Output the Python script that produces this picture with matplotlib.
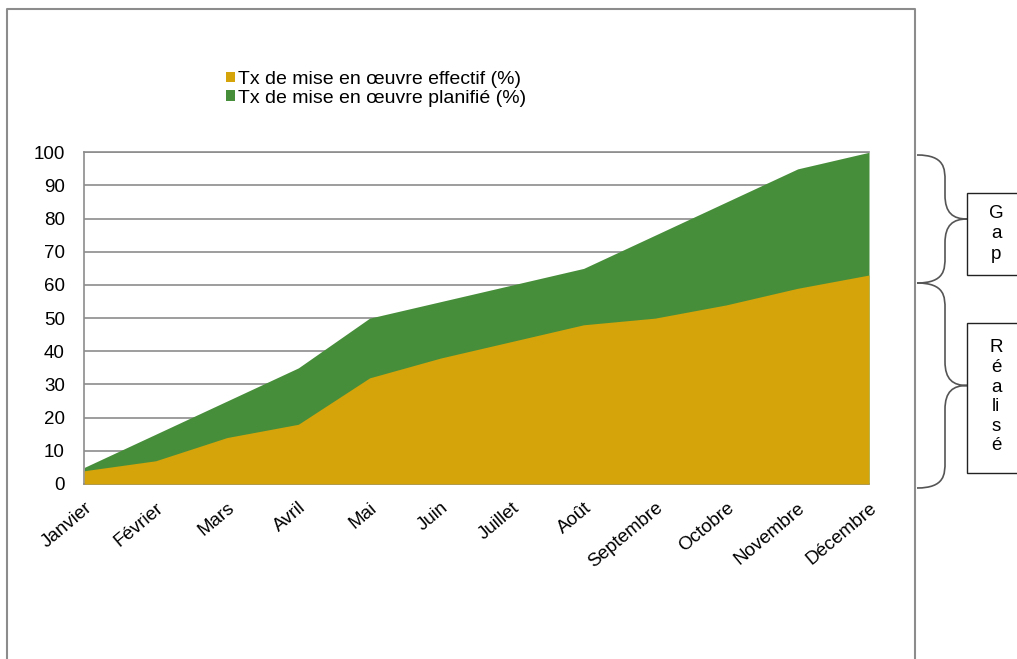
import matplotlib.pyplot as plt
import numpy as np
from matplotlib.patches import Patch, Rectangle, PathPatch
from matplotlib.path import Path

plt.rcParams['font.family'] = ['Liberation Sans', 'DejaVu Sans']

# Données
mois = ['Janvier', 'Février', 'Mars', 'Avril', 'Mai', 'Juin', 'Juillet',
        'Août', 'Septembre', 'Octobre', 'Novembre', 'Décembre']
planifie = [5, 15, 25, 35, 50, 55, 60, 65, 75, 85, 95, 100]
effectif = [4, 7, 14, 18, 32, 38, 43, 48, 50, 54, 59, 63]
y_ticks = [0, 10, 20, 30, 40, 50, 60, 70, 80, 90, 100]

c_effectif = '#D5A40B'
c_planifie = '#478E3A'
c_gris = '#8c8c8c'

W, H = 1017, 659
fig = plt.figure(figsize=(W / 100, H / 100), dpi=100)
ax = fig.add_axes([84.3 / W, 1 - 484 / H, (869 - 84.3) / W, (484 - 152.3) / H])

x = np.arange(len(mois))
ax.fill_between(x, 0, planifie, color=c_planifie, linewidth=0, zorder=2)
ax.fill_between(x, 0, effectif, color=c_effectif, linewidth=0, zorder=3)

ax.set_xlim(0, len(mois) - 1)
ax.set_ylim(0, 100)
ax.set_yticks(y_ticks)
ax.set_xticks(x)
ax.set_xticklabels(mois, rotation=40, ha='right', rotation_mode='anchor')
ax.tick_params(axis='y', length=0, pad=14, labelsize=13.5)
ax.tick_params(axis='x', length=0, pad=11, labelsize=13.5)
ax.grid(axis='y', color=c_gris, linewidth=1.2, zorder=1)
ax.set_axisbelow(True)
for side in ['left', 'bottom', 'top']:
    ax.spines[side].set_color(c_gris)
    ax.spines[side].set_linewidth(1.2)
ax.spines['right'].set_visible(False)

handles = [Patch(facecolor=c_effectif, edgecolor='none'),
           Patch(facecolor=c_planifie, edgecolor='none')]
labels = ['Tx de mise en œuvre effectif (%)', 'Tx de mise en œuvre planifié (%)']
fig.legend(handles, labels, loc='upper left', bbox_to_anchor=(226 / W, 1 - 71 / H),
           frameon=False, fontsize=14, handlelength=0.45, handleheight=0.45,
           handletextpad=0.15, labelspacing=0.08, borderpad=0, borderaxespad=0)

# calque pour le cadre, les accolades et les encadrés (coordonnées en pixels)
ov = fig.add_axes([0, 0, 1, 1], facecolor='none')
ov.set_xlim(0, W)
ov.set_ylim(H, 0)
ov.axis('off')

ov.plot([7, 7, 915, 915], [H + 5, 8.5, 8.5, H + 5], color=c_gris, linewidth=1.5)


def accolade(y0, y1, x0=917, xm=945, xt=967):
    ym = (y0 + y1) / 2
    verts = [(x0, y0), (xm, y0), (xm, y0 + 14), (xm, y0 + 26),
             (xm, ym - 24),
             (xm, ym - 6), (xm + 8, ym), (xt, ym),
             (xm + 8, ym), (xm, ym + 6), (xm, ym + 24),
             (xm, y1 - 26),
             (xm, y1 - 14), (xm, y1), (x0, y1)]
    codes = [Path.MOVETO, Path.CURVE4, Path.CURVE4, Path.CURVE4,
             Path.LINETO,
             Path.CURVE4, Path.CURVE4, Path.CURVE4,
             Path.CURVE4, Path.CURVE4, Path.CURVE4,
             Path.LINETO,
             Path.CURVE4, Path.CURVE4, Path.CURVE4]
    ov.add_patch(PathPatch(Path(verts, codes), facecolor='none',
                           edgecolor='#555555', linewidth=1.2))


accolade(155, 283)
accolade(283, 488)

ov.add_patch(Rectangle((967, 193), 60, 82, facecolor='white', edgecolor='#222222', linewidth=1.0))
ov.add_patch(Rectangle((967, 323), 60, 150, facecolor='white', edgecolor='#222222', linewidth=1.0))
ov.text(996, 234, 'G\na\np', ha='center', va='center', fontsize=13.5, linespacing=1.3)
ov.text(996, 397, 'R\né\na\nli\ns\né', ha='center', va='center', fontsize=13.5, linespacing=1.2)

fig.savefig('out.png', dpi=100)
